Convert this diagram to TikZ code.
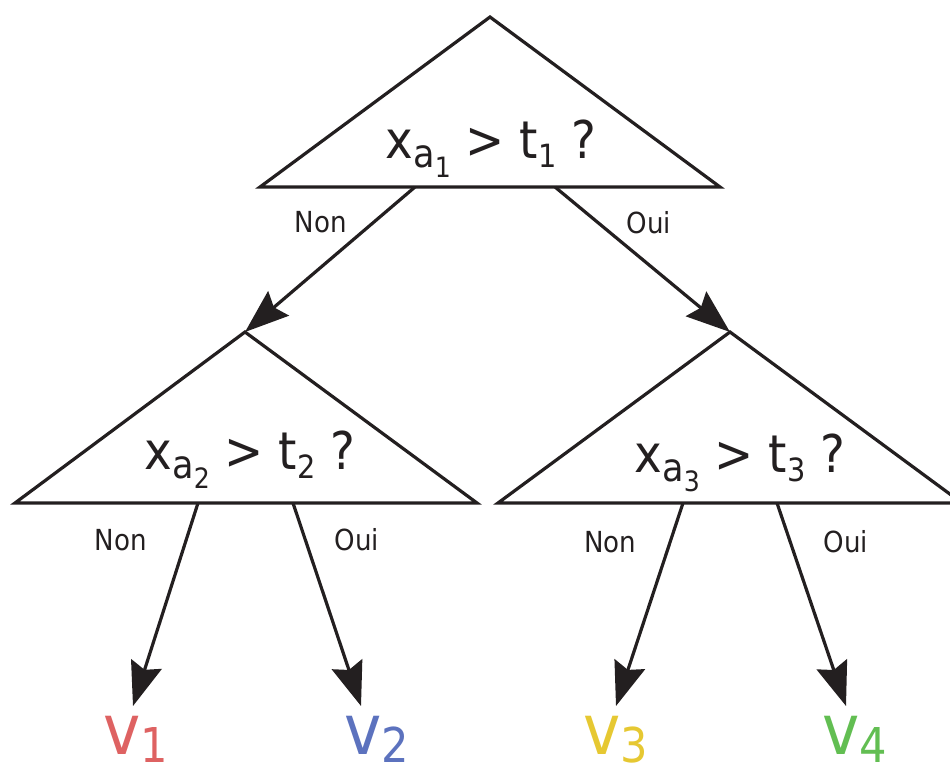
\documentclass[tikz,border=0pt]{standalone}
\usepackage{fontspec}
\setmainfont{DejaVu Sans Condensed}
\usetikzlibrary{arrows.meta}
\definecolor{ink}{RGB}{35,31,32}
\definecolor{vred}{RGB}{222,98,98}
\definecolor{vblue}{RGB}{92,114,190}
\definecolor{vyellow}{RGB}{230,200,50}
\definecolor{vgreen}{RGB}{98,190,82}
\tikzset{
  tri/.style={draw=ink, line width=3.2pt, line join=miter},
  arr/.style={draw=ink, line width=3.2pt, -{Stealth[length=44pt,width=32pt,inset=6pt]}},
  lbl/.style={font=\fontsize{29}{29}\selectfont, text=ink, inner sep=0pt},
  qtxt/.style={font=\fontsize{52}{52}\selectfont, text=ink, inner sep=0pt, anchor=base},
  leaf/.style={inner sep=0pt, anchor=base west},
}
\newcommand{\sbs}[3]{\raisebox{-#1pt}{\fontsize{#2}{#2}\selectfont #3}}
\newcommand{\qq}[1]{x\sbs{9}{39}{a\sbs{10}{28}{#1}} > t\sbs{9}{32}{#1} ?}
\newcommand{\leafv}[1]{\fontsize{70}{70}\selectfont v\sbs{8}{48}{#1}}
\begin{document}
\begin{tikzpicture}[x=1pt,y=-1pt]
\useasboundingbox (0,0) rectangle (950,765);
\clip (0,0) rectangle (950,765);
% triangles
\coordinate (t1a) at (490,17);
\coordinate (t1l) at (260,187);
\coordinate (t1r) at (720,187);
\coordinate (t2a) at (245,332);
\coordinate (t2l) at (15,503);
\coordinate (t2r) at (477,503);
\coordinate (t3a) at (730,332);
\coordinate (t3l) at (498,503);
\coordinate (t3r) at (962,503);
\draw[tri] (t1a) -- (t1l) -- (t1r) -- cycle;
\draw[tri] (t2a) -- (t2l) -- (t2r) -- cycle;
\draw[tri] (t3a) -- (t3l) -- (t3r) -- cycle;
% questions
\node[qtxt] (q1) at (491,158) {\qq{1}};
\node[qtxt] (q2) at (250,469) {\qq{2}};
\node[qtxt] (q3) at (740,472) {\qq{3}};
% connector start points
\coordinate (s1n) at (415,187);
\coordinate (s1o) at (555,187);
\coordinate (s2n) at (198,503);
\coordinate (s2o) at (293,503);
\coordinate (s3n) at (683,503);
\coordinate (s3o) at (777,503);
% leaf tips
\coordinate (e1) at (133,706);
\coordinate (e2) at (361,706);
\coordinate (e3) at (616,706);
\coordinate (e4) at (846,706);
\draw[arr] (s1n) -- (t2a);
\draw[arr] (s1o) -- (t3a);
\draw[arr] (s2n) -- (e1);
\draw[arr] (s2o) -- (e2);
\draw[arr] (s3n) -- (e3);
\draw[arr] (s3o) -- (e4);
% labels
\node[lbl] (l1) at (321,222) {Non};
\node[lbl] (l2) at (649,223) {Oui};
\node[lbl] (l3) at (121,540) {Non};
\node[lbl] (l4) at (357,540) {Oui};
\node[lbl] (l5) at (610,542) {Non};
\node[lbl] (l6) at (846,542) {Oui};
% leaves
\node[leaf, text=vred] (v1) at (103,754) {\leafv{1}};
\node[leaf, text=vblue] (v2) at (344,754) {\leafv{2}};
\node[leaf, text=vyellow] (v3) at (583,754) {\leafv{3}};
\node[leaf, text=vgreen] (v4) at (822,754) {\leafv{4}};
\end{tikzpicture}
\end{document}
